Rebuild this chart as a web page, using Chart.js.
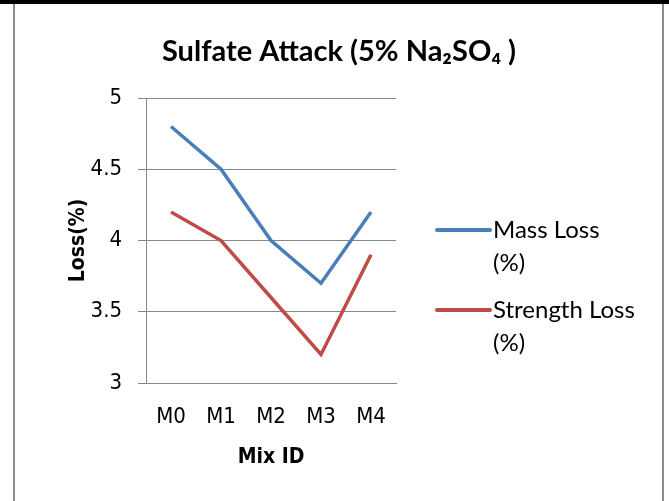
<!DOCTYPE html>
<html>
<head>
<meta charset="utf-8">
<script src="https://cdn.jsdelivr.net/npm/chart.js@4.4.1/dist/chart.umd.min.js"></script>
<style>
  html, body { margin: 0; padding: 0; background: #fff; }
  #wrap { width: 669px; height: 501px; position: relative; }
</style>
</head>
<body>
<div id="wrap"><canvas id="chart"></canvas></div>
<script>
const mixIds = ["M0", "M1", "M2", "M3", "M4"];
const massLoss = [4.8, 4.5, 4.0, 3.7, 4.2];
const strengthLoss = [4.2, 4.0, 3.6, 3.2, 3.9];
const seriesLabels = [["Mass Loss", "(%)"], ["Strength Loss", "(%)"]];
const yTicks = [3, 3.5, 4, 4.5, 5];

const narrow = "'DejaVu Sans Condensed', 'Liberation Sans Narrow', sans-serif";
const body = "Lato, 'Open Sans', sans-serif";

// frame, title and the two-line legend
const decor = {
  id: "decor",
  beforeDraw(chart) {
    const ctx = chart.ctx;
    ctx.save();
    ctx.fillStyle = "#000";
    ctx.fillRect(0, 0, 669, 4);
    ctx.strokeStyle = "#8c8c8c";
    ctx.lineWidth = 2;
    ctx.beginPath();
    ctx.moveTo(14, 4); ctx.lineTo(14, 501);
    ctx.moveTo(663, 4); ctx.lineTo(663, 501);
    ctx.stroke();
    ctx.restore();
  },
  afterDraw(chart) {
    const ctx = chart.ctx;
    ctx.save();
    ctx.fillStyle = "#000";
    ctx.textAlign = "center";
    ctx.textBaseline = "middle";
    ctx.font = "bold 29px " + body;
    ctx.fillText("Sulfate Attack (5% Na\u2082SO\u2084 )", 339, 52);

    ctx.textAlign = "left";
    ctx.font = "24px " + body;
    const rows = [230, 310];
    chart.data.datasets.forEach((ds, i) => {
      const y = rows[i];
      ctx.strokeStyle = ds.borderColor;
      ctx.lineWidth = 4;
      ctx.lineCap = "round";
      ctx.beginPath();
      ctx.moveTo(437, y);
      ctx.lineTo(490, y);
      ctx.stroke();
      seriesLabels[i].forEach((t, j) => ctx.fillText(t, 493, y + j * 33));
    });
    ctx.restore();
  }
};

new Chart(document.getElementById("chart"), {
  type: "line",
  data: {
    labels: mixIds,
    datasets: [
      {
        label: "Mass Loss (%)",
        data: massLoss,
        borderColor: "#4A7EBB",
        borderWidth: 3.5,
        pointRadius: 0,
        tension: 0,
      },
      {
        label: "Strength Loss (%)",
        data: strengthLoss,
        borderColor: "#BE4B48",
        borderWidth: 3.5,
        pointRadius: 0,
        tension: 0,
      },
    ],
  },
  options: {
    responsive: true,
    maintainAspectRatio: false,
    animation: false,
    layout: { padding: { top: 98, left: 0, right: 273, bottom: 0 } },
    plugins: {
      legend: { display: false },
      tooltip: { enabled: false },
    },
    scales: {
      x: {
        offset: true,
        afterFit: (s) => { s.height = 118; },
        grid: { display: false, drawTicks: false, offset: true },
        border: { display: true, color: "#868686", width: 1 },
        ticks: { color: "#000", padding: 21, font: { family: narrow, size: 22 } },
        title: {
          display: true,
          text: "Mix ID",
          color: "#000",
          font: { family: narrow, size: 21, weight: "bold" },
          padding: { bottom: 31 },
        },
      },
      y: {
        min: 3,
        max: 5,
        afterFit: (s) => { s.width = 146; },
        afterBuildTicks: (s) => { s.ticks = yTicks.map((v) => ({ value: v })); },
        grid: { color: "#868686", lineWidth: 1, tickLength: 8 },
        border: { display: true, color: "#868686", width: 1 },
        ticks: {
          color: "#000",
          padding: 16,
          font: { family: narrow, size: 22 },
          callback: (v) => String(v),
        },
        title: {
          display: true,
          text: "Loss(%)",
          color: "#000",
          font: { family: narrow, size: 21, weight: "bold" },
          padding: { top: 66 },
        },
      },
    },
  },
  plugins: [decor],
});
</script>
</body>
</html>
